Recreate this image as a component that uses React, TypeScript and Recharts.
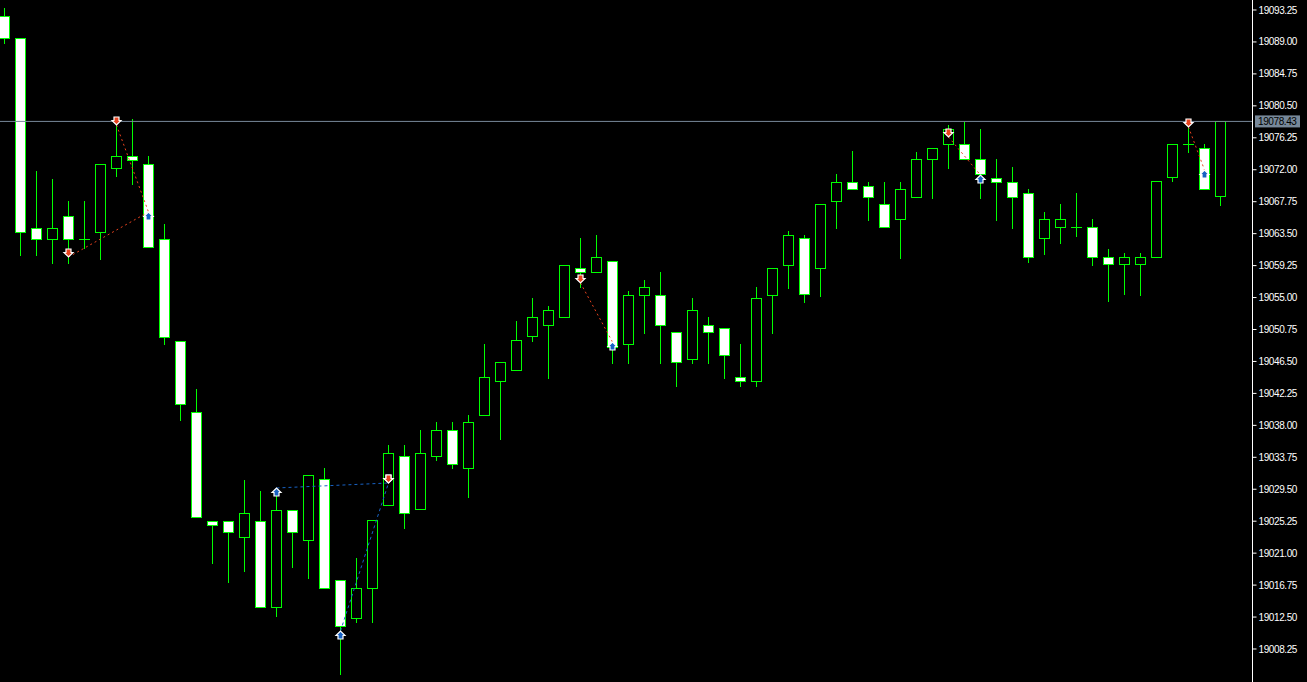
import React from 'react';
import { ComposedChart, Bar, XAxis, YAxis, ReferenceLine, ReferenceDot } from 'recharts';

// ---- candle data (OHLC), one entry per bar ----
const opens = [
  19092.45, 19089.53, 19064.25, 19062.79, 19065.85, 19062.79, 19063.72, 19072.23, 19073.83, 19072.76,
  19062.79, 19049.22, 19039.78, 19025.28, 19025.28, 19023.15, 19025.28, 19013.84, 19026.74, 19022.75,
  19030.86, 19017.43, 19012.37, 19016.36, 19027.40, 19033.92, 19026.87, 19033.92, 19037.38, 19032.33,
  19039.38, 19043.90, 19045.36, 19049.89, 19051.35, 19052.41, 19058.93, 19058.40, 19059.86, 19048.82,
  19055.34, 19055.34, 19050.42, 19046.83, 19051.35, 19050.95, 19044.43, 19043.90, 19055.34, 19059.33,
  19062.92, 19058.93, 19067.84, 19070.37, 19069.84, 19067.44, 19065.45, 19068.38, 19073.43, 19075.43,
  19075.43, 19073.43, 19070.90, 19070.37, 19068.91, 19062.92, 19064.38, 19064.38, 19064.38, 19060.39,
  19059.46, 19059.46, 19060.39, 19071.04, 19075.43, 19074.89, 19068.51,
];
const highs = [
  19093.52, 19089.53, 19071.83, 19070.77, 19067.84, 19067.84, 19072.76, 19078.35, 19078.75, 19073.83,
  19064.78, 19049.22, 19042.84, 19025.28, 19025.28, 19030.73, 19029.27, 19029.67, 19026.74, 19031.40,
  19032.33, 19017.43, 19020.35, 19025.41, 19035.39, 19035.39, 19037.38, 19038.45, 19038.45, 19039.38,
  19048.82, 19046.43, 19051.88, 19054.94, 19053.88, 19059.33, 19062.92, 19063.32, 19059.86, 19055.87,
  19057.33, 19058.40, 19050.42, 19054.94, 19052.41, 19050.95, 19048.82, 19056.40, 19058.93, 19063.85,
  19063.32, 19067.44, 19071.43, 19074.49, 19070.37, 19070.37, 19070.37, 19074.36, 19074.89, 19077.95,
  19078.35, 19077.42, 19073.43, 19072.37, 19069.44, 19066.38, 19067.44, 19068.91, 19065.45, 19061.46,
  19060.93, 19060.93, 19070.50, 19075.43, 19077.69, 19075.43, 19078.43,
];
const lows = [
  19088.86, 19060.66, 19060.66, 19059.60, 19059.60, 19061.59, 19060.13, 19071.17, 19070.10, 19061.72,
  19048.82, 19038.71, 19025.81, 19019.69, 19017.16, 19018.63, 19013.84, 19012.64, 19019.16, 19017.69,
  19016.36, 19004.92, 19011.84, 19011.84, 19027.40, 19024.35, 19026.87, 19033.39, 19032.33, 19028.47,
  19039.38, 19036.18, 19045.36, 19049.22, 19044.30, 19052.41, 19056.40, 19058.40, 19046.29, 19046.29,
  19050.28, 19046.29, 19043.23, 19046.29, 19046.29, 19044.30, 19043.23, 19043.23, 19050.28, 19056.27,
  19054.41, 19055.21, 19064.25, 19069.44, 19065.32, 19064.38, 19060.26, 19068.38, 19068.24, 19072.23,
  19073.43, 19068.24, 19065.32, 19064.25, 19059.73, 19060.79, 19062.26, 19063.19, 19059.33, 19054.54,
  19055.47, 19055.34, 19060.39, 19070.50, 19074.36, 19069.44, 19067.31,
];
const closes = [
  19089.53, 19063.72, 19062.79, 19064.25, 19062.79, 19062.79, 19072.76, 19073.83, 19073.30, 19061.72,
  19049.75, 19040.84, 19025.81, 19024.74, 19023.81, 19026.34, 19013.84, 19026.74, 19023.81, 19031.40,
  19016.36, 19011.31, 19016.36, 19025.41, 19034.32, 19026.34, 19034.32, 19037.38, 19032.86, 19038.45,
  19044.43, 19046.43, 19049.35, 19052.41, 19053.34, 19059.33, 19058.40, 19060.39, 19048.42, 19055.34,
  19056.40, 19051.35, 19046.43, 19053.34, 19050.42, 19047.36, 19043.90, 19054.94, 19058.93, 19063.32,
  19055.47, 19067.44, 19070.37, 19069.44, 19068.38, 19064.38, 19069.44, 19073.43, 19074.89, 19077.42,
  19073.43, 19071.43, 19070.37, 19068.38, 19060.39, 19065.45, 19065.45, 19064.38, 19060.39, 19059.46,
  19060.39, 19060.39, 19070.50, 19075.43, 19075.43, 19069.44, 19078.43,
];

// ---- price axis ticks ----
const yTicks = [
  19093.25, 19089.0, 19084.75, 19080.5, 19076.25, 19072.0, 19067.75, 19063.5, 19059.25, 19055.0,
  19050.75, 19046.5, 19042.25, 19038.0, 19033.75, 19029.5, 19025.25, 19021.0, 19016.75, 19012.5, 19008.25,
];
const currentPrice = 19078.43;

// ---- trades (open -> close) ----
const tradeSide = ['sell', 'sell', 'buy', 'buy', 'sell', 'sell', 'sell'];
const tradeOpenIdx = [4, 7, 17, 21, 36, 59, 74];
const tradeOpenPrice = [19060.39, 19077.95, 19029.67, 19010.64, 19056.94, 19076.36, 19077.69];
const tradeCloseIdx = [9, 9, 24, 24, 38, 61, 75];
const tradeClosePrice = [19066.38, 19066.38, 19030.33, 19030.33, 19049.09, 19071.30, 19071.97];

// ---- layout constants ----
const W = 1307;
const H = 682;
const AXIS_W = 54.5;
const BAR_STEP = 16;
const X_MIN = -4.5 / BAR_STEP;
const X_MAX = X_MIN + (W - AXIS_W) / BAR_STEP;
const Y_MAX = 19094.58;
const Y_MIN = 19003.86;

const GREEN = '#00ff00';
const RED = '#e8421e';
const BLUE = '#1862c4';

const data = opens.map((o, i) => ({
  i,
  range: [lows[i], highs[i]],
  open: o,
  high: highs[i],
  low: lows[i],
  close: closes[i],
}));

const Candle = (props: any) => {
  const { x, y, width, height, payload } = props;
  if (!payload || x == null || y == null) return null;
  const { open, close, high, low } = payload;
  const yTop = Math.min(y, y + height);
  const yBot = Math.max(y, y + height);
  const span = high - low;
  const yOf = (v: number) => (span > 0 ? yTop + ((high - v) / span) * (yBot - yTop) : yTop);
  const cx = Math.round(x + width / 2 - 0.5) + 0.5;
  const yH = Math.round(yOf(high));
  const yL = Math.round(yOf(low));
  const yO = Math.round(yOf(open));
  const yC = Math.round(yOf(close));
  const top = Math.min(yO, yC);
  const bot = Math.max(yO, yC);
  const bear = close < open;
  return (
    <g>
      <line x1={cx} x2={cx} y1={yH} y2={yL + 1} stroke={GREEN} strokeWidth={1} />
      {bot - top < 1 ? (
        <line x1={cx - 5.5} x2={cx + 5.5} y1={top + 0.5} y2={top + 0.5} stroke={GREEN} strokeWidth={1} />
      ) : (
        <rect x={cx - 5} y={top + 0.5} width={10} height={bot - top} fill={bear ? '#ffffff' : '#000000'} stroke={GREEN} strokeWidth={1} />
      )}
    </g>
  );
};

const DownArrow = (p: any) => {
  const cx = Math.round(p.cx - 0.5) + 0.5;
  const cy = Math.round(p.cy);
  const d = `M ${cx - 2.5} ${cy - 8} H ${cx + 2.5} V ${cy - 4.5} H ${cx + 4.5} L ${cx} ${cy} L ${cx - 4.5} ${cy - 4.5} H ${cx - 2.5} Z`;
  return <path d={d} fill={RED} stroke="#ffffff" strokeWidth={1.2} strokeLinejoin="miter" />;
};
const UpArrow = (p: any) => {
  const cx = Math.round(p.cx - 0.5) + 0.5;
  const cy = Math.round(p.cy);
  const d = `M ${cx - 2.5} ${cy + 8} H ${cx + 2.5} V ${cy + 4.5} H ${cx + 4.5} L ${cx} ${cy} L ${cx - 4.5} ${cy + 4.5} H ${cx - 2.5} Z`;
  return <path d={d} fill={BLUE} stroke="#ffffff" strokeWidth={1.2} strokeLinejoin="miter" />;
};

const PriceTag = (props: any) => {
  const vb = props.viewBox || {};
  const x0 = vb.x + vb.width + 2.5;
  const y0 = vb.y;
  return (
    <g>
      <rect x={x0} y={y0 - 6} width={45} height={12} fill="#778899" />
      <text x={x0 + 3} y={y0} dy="0.355em" fill="#000000" fontSize={10} letterSpacing={-0.4} fontFamily="Liberation Sans, Arial, sans-serif">
        {currentPrice.toFixed(2)}
      </text>
    </g>
  );
};

export default function App() {
  return (
    <div style={{ position: 'fixed', left: 0, top: 0, width: W, height: H, background: '#000' }}>
      <ComposedChart width={W} height={H} data={data} margin={{ top: 0, right: 0, bottom: 0, left: 0 }}>
        <XAxis type="number" dataKey="i" domain={[X_MIN, X_MAX]} allowDataOverflow hide />
        <YAxis
          orientation="right"
          type="number"
          domain={[Y_MIN, Y_MAX]}
          allowDataOverflow
          ticks={yTicks}
          interval={0}
          width={AXIS_W}
          tickSize={4}
          tickMargin={2}
          axisLine={{ stroke: '#ffffff' }}
          tickLine={{ stroke: '#ffffff' }}
          tick={{ fill: '#ffffff', fontSize: 10, fontFamily: 'Liberation Sans, Arial, sans-serif', letterSpacing: -0.4 }}
          tickFormatter={(v: number) => v.toFixed(2)}
        />
        <ReferenceLine y={currentPrice} stroke="#778899" strokeWidth={1} label={(p: any) => <PriceTag {...p} />} />
        <Bar dataKey="range" barSize={10} isAnimationActive={false} shape={(p: any) => <Candle {...p} />} />
        {tradeSide.map((side, k) => (
          <ReferenceLine
            key={`seg${k}`}
            segment={[
              { x: tradeOpenIdx[k], y: tradeOpenPrice[k] },
              { x: tradeCloseIdx[k], y: tradeClosePrice[k] },
            ]}
            stroke={side === 'sell' ? RED : BLUE}
            strokeWidth={1}
            strokeDasharray={side === 'sell' ? '2 3' : '3 3'}
          />
        ))}
        {tradeSide.map((side, k) => (
          <ReferenceDot
            key={`o${k}`}
            x={tradeOpenIdx[k]}
            y={tradeOpenPrice[k]}
            r={4}
            shape={(p: any) => (side === 'sell' ? <DownArrow {...p} /> : <UpArrow {...p} />)}
          />
        ))}
        {tradeSide.map((side, k) => (
          <ReferenceDot
            key={`c${k}`}
            x={tradeCloseIdx[k]}
            y={tradeClosePrice[k]}
            r={4}
            shape={(p: any) => (side === 'sell' ? <UpArrow {...p} /> : <DownArrow {...p} />)}
          />
        ))}
      </ComposedChart>
    </div>
  );
}
